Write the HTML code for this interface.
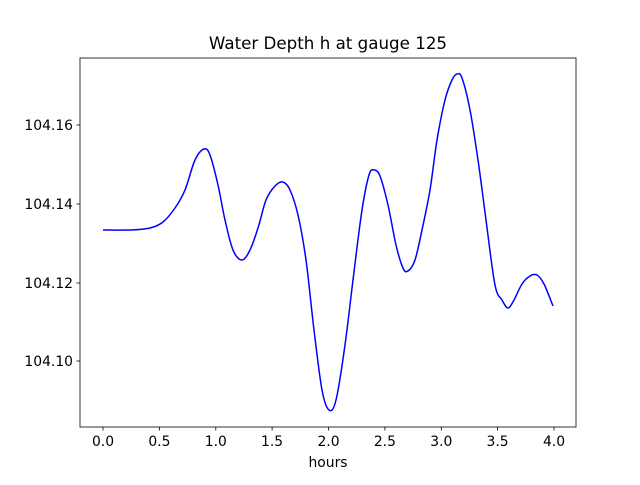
<!DOCTYPE html>
<html><head><meta charset="utf-8"><style>
html,body{margin:0;padding:0;background:#fff;}
svg text{font-family:"DejaVu Sans","Liberation Sans",sans-serif;fill:#000;}
</style></head><body>
<svg width="640" height="480" viewBox="0 0 640 480" xmlns="http://www.w3.org/2000/svg">
<rect x="0" y="0" width="640" height="480" fill="#fff"/>
<path id="curve" fill="none" stroke="#0000ff" stroke-width="1.5" stroke-linejoin="round" d="M103,230 L130,230 L150,228 L163,222 L175,208 L185,190 L195,160 L204,149 L210,155 L218,185 L225,220 L233,250 L242,260 L250,250 L258,228 L266,200 L275,186 L283,182 L290,190 L298,215 L306,260 L314,330 L322,390 L329,410 L336,400 L345,345 L353,280 L362,210 L369,175 L374,170 L380,176 L388,205 L396,245 L403,268 L408,271 L415,260 L422,230 L430,190 L437,140 L445,100 L452,80 L457,74 L462,78 L470,110 L478,160 L486,220 L495,285 L502,300 L508,308 L514,300 L522,284 L530,276 L537,275 L544,284 L553,306"/>
<rect x="80" y="58" width="496" height="369" fill="none" stroke="#000" stroke-width="0.8"/>
<g stroke="#000" stroke-width="0.8">
<line x1="103" y1="427" x2="103" y2="430.5"/>
<line x1="159.4" y1="427" x2="159.4" y2="430.5"/>
<line x1="215.8" y1="427" x2="215.8" y2="430.5"/>
<line x1="272.1" y1="427" x2="272.1" y2="430.5"/>
<line x1="328.5" y1="427" x2="328.5" y2="430.5"/>
<line x1="384.9" y1="427" x2="384.9" y2="430.5"/>
<line x1="441.3" y1="427" x2="441.3" y2="430.5"/>
<line x1="497.6" y1="427" x2="497.6" y2="430.5"/>
<line x1="554" y1="427" x2="554" y2="430.5"/>
<line x1="76.5" y1="125" x2="80" y2="125"/>
<line x1="76.5" y1="204" x2="80" y2="204"/>
<line x1="76.5" y1="283" x2="80" y2="283"/>
<line x1="76.5" y1="361" x2="80" y2="361"/>
</g>
<g font-size="13.9" text-anchor="middle">
<text x="103" y="446">0.0</text>
<text x="159.4" y="446">0.5</text>
<text x="215.8" y="446">1.0</text>
<text x="272.1" y="446">1.5</text>
<text x="328.5" y="446">2.0</text>
<text x="384.9" y="446">2.5</text>
<text x="441.3" y="446">3.0</text>
<text x="497.6" y="446">3.5</text>
<text x="554" y="446">4.0</text>
<text x="328" y="467">hours</text>
</g>
<g font-size="13.9" text-anchor="end">
<text x="73" y="130">104.16</text>
<text x="73" y="209">104.14</text>
<text x="73" y="288">104.12</text>
<text x="73" y="366">104.10</text>
</g>
<text x="328" y="49" font-size="16.7" text-anchor="middle">Water Depth h at gauge 125</text>
</svg>
<script>
(function(){
var p=[[103,230],[130,230],[150,228],[163,222],[175,208],[185,190],[195,160],[204,149],[210,155],[218,185],[225,220],[233,250],[242,260],[250,250],[258,228],[266,200],[275,186],[283,182],[290,190],[298,215],[306,260],[314,330],[322,390],[329,410],[336,400],[345,345],[353,280],[362,210],[369,175],[374,170],[380,176],[388,205],[396,245],[403,268],[408,271],[415,260],[422,230],[430,190],[437,140],[445,100],[452,80],[457,74],[462,78],[470,110],[478,160],[486,220],[495,285],[502,300],[508,308],[514,300],[522,284],[530,276],[537,275],[544,284],[553,306]];
var d="M"+p[0][0]+","+p[0][1];
for(var i=0;i<p.length-1;i++){
var a=p[i>0?i-1:0],b=p[i],c=p[i+1],e=p[i+2<p.length?i+2:i+1];
var c1x=b[0]+(c[0]-a[0])/6,c1y=b[1]+(c[1]-a[1])/6,c2x=c[0]-(e[0]-b[0])/6,c2y=c[1]-(e[1]-b[1])/6;
d+=" C"+c1x.toFixed(1)+","+c1y.toFixed(1)+" "+c2x.toFixed(1)+","+c2y.toFixed(1)+" "+c[0]+","+c[1];
}
document.getElementById("curve").setAttribute("d",d);
})();
</script>
</body></html>
